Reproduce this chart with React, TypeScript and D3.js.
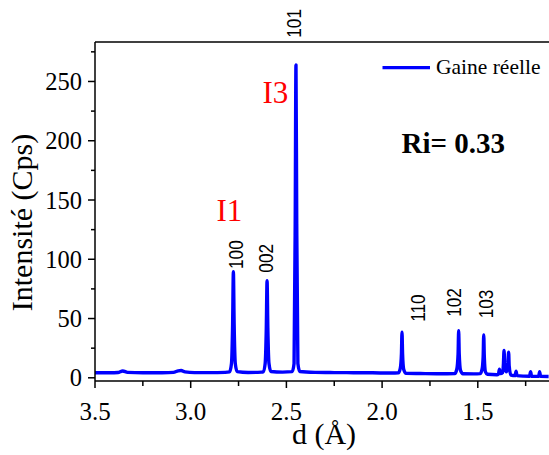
import React, { useEffect } from "react";
import * as d3 from "d3";

const W = 549;
const H = 455;

// Diffraction pattern: d-spacing (Å) and intensity (Cps)
const dValues = [
  3.5, 3.42, 3.38, 3.355, 3.33, 3.25, 3.15, 3.09, 3.065, 3.05, 3.03, 2.98, 2.9, 2.82,
  2.797, 2.787, 2.781, 2.777, 2.773, 2.767, 2.757, 2.7, 2.63,
  2.621, 2.611, 2.605, 2.601, 2.597, 2.591, 2.581, 2.52, 2.47,
  2.46, 2.454, 2.45, 2.446, 2.44, 2.43, 2.35, 2.25, 2.15, 2.05, 1.95,
  1.915, 1.905, 1.899, 1.896, 1.893, 1.887, 1.875, 1.8, 1.7, 1.62,
  1.61, 1.603, 1.6, 1.597, 1.59, 1.578, 1.52, 1.488,
  1.478, 1.472, 1.469, 1.466, 1.46, 1.45, 1.4, 1.392, 1.387, 1.382,
  1.37, 1.366, 1.363, 1.359, 1.35, 1.343, 1.339, 1.336, 1.327,
  1.305, 1.3, 1.295, 1.26, 1.23, 1.224, 1.219, 1.2, 1.182, 1.177, 1.172, 1.13,
];
const intensities = [
  4.3, 4.2, 4.5, 5.8, 4.6, 4.2, 4.3, 4.6, 5.9, 6.2, 5.0, 4.4, 4.4, 4.6,
  5.0, 12, 45, 89.5, 45, 12, 5.2, 4.5, 4.8,
  5.2, 12, 42, 82, 42, 12, 5.3, 4.8, 5.2,
  12, 130, 264, 130, 12, 5.3, 4.6, 4.4, 4.3, 4.2, 4.0,
  4.2, 8, 20, 38.5, 20, 7, 3.8, 3.6, 3.4, 3.6,
  7, 20, 39.8, 20, 6, 3.4, 3.3, 3.5,
  7, 18, 36.2, 18, 5, 3.0, 2.6, 3.2, 7.3, 3.5,
  4.5, 12, 23, 10, 5, 11, 21.6, 10, 2.2,
  1.8, 5.5, 1.8, 1.4, 1.3, 5.2, 1.3, 1.2, 1.2, 5.2, 1.2, 1.1,
];

const xTicks = [3.5, 3.0, 2.5, 2.0, 1.5];
const xMinorTicks = [3.25, 2.75, 2.25, 1.75, 1.25];
const yTicks = [0, 50, 100, 150, 200, 250];
const yMinorTicks = [25, 75, 125, 175, 225, 275];

const hklLabels = ["100", "002", "101", "110", "102", "103"];
const hklLabelD = [2.728, 2.572, 2.424, 1.776, 1.589, 1.419];
const hklLabelY = [91.8, 88.7, 286.9, 47.3, 51.5, 50.2];

const seriesName = "Gaine réelle";
const xTitle = "d (Å)";
const yTitle = "Intensité (Cps)";
const riText = "Ri= 0.33";

export default function App() {
  useEffect(() => {
    document.body.style.margin = "0";
  }, []);

  const left = 95;
  const right = 549;
  const top = 42;
  const bottom = 381;

  const x = d3.scaleLinear().domain([3.5, 1.128]).range([left, right]);
  const y = d3.scaleLinear().domain([-2.7, 283.3]).range([bottom, top]);

  const pts: [number, number][] = dValues.map((d, i) => [d, intensities[i]]);
  const line = d3
    .line<[number, number]>()
    .x((p) => x(p[0]))
    .y((p) => y(p[1]))
    .curve(d3.curveMonotoneX);

  const serif = "'Liberation Serif', 'Times New Roman', serif";
  const sans = "'Liberation Sans', Arial, sans-serif";

  return (
    <svg width={W} height={H} style={{ position: "absolute", left: 0, top: 0, background: "#fff" }}>
      <defs>
        <clipPath id="plotclip">
          <rect x={left} y={top} width={right - left} height={bottom - top} />
        </clipPath>
      </defs>
      <rect x={0} y={0} width={W} height={H} fill="#fff" />

      <path
        d={line(pts) || ""}
        fill="none"
        stroke="#0000ff"
        strokeWidth={3.4}
        strokeLinejoin="round"
        clipPath="url(#plotclip)"
      />

      {/* spines */}
      <line x1={left} x2={right} y1={top} y2={top} stroke="#000" strokeWidth={1.5} />
      <line x1={left} x2={left} y1={top} y2={bottom} stroke="#000" strokeWidth={1.5} />
      <line x1={left} x2={right} y1={bottom} y2={bottom} stroke="#000" strokeWidth={1.5} />

      {/* x ticks */}
      {xTicks.map((t) => (
        <g key={"xt" + t}>
          <line x1={x(t)} x2={x(t)} y1={bottom} y2={bottom + 7} stroke="#000" strokeWidth={1.5} />
          <text x={x(t)} y={419.5} fontFamily={serif} fontSize={25} textAnchor="middle" fill="#000">
            {t.toFixed(1)}
          </text>
        </g>
      ))}
      {xMinorTicks.map((t) => (
        <line key={"xm" + t} x1={x(t)} x2={x(t)} y1={bottom} y2={bottom + 5} stroke="#000" strokeWidth={1.5} />
      ))}

      {/* y ticks */}
      {yTicks.map((t) => (
        <g key={"yt" + t}>
          <line x1={left - 7} x2={left} y1={y(t)} y2={y(t)} stroke="#000" strokeWidth={1.5} />
          <text x={82} y={y(t)} dy="0.35em" fontFamily={serif} fontSize={24.5} textAnchor="end" fill="#000">
            {t}
          </text>
        </g>
      ))}
      {yMinorTicks.map((t) => (
        <line key={"ym" + t} x1={left - 4} x2={left} y1={y(t)} y2={y(t)} stroke="#000" strokeWidth={1.5} />
      ))}

      {/* axis titles */}
      <text x={324} y={444} fontFamily={serif} fontSize={30} textAnchor="middle" fill="#000">
        {xTitle}
      </text>
      <text
        transform={`translate(32, 222.5) rotate(-90)`}
        fontFamily={serif}
        fontSize={30}
        textAnchor="middle"
        fill="#000"
      >
        {yTitle}
      </text>

      {/* hkl labels */}
      {hklLabels.map((lab, i) => (
        <text
          key={lab}
          transform={`translate(${x(hklLabelD[i])}, ${y(hklLabelY[i])}) rotate(-90) scale(0.86, 1)`}
          fontFamily={sans}
          fontSize={20}
          fill="#000"
        >
          {lab}
        </text>
      ))}

      {/* I1 / I3 */}
      <text x={216.5} y={220.5} fontFamily={serif} fontSize={31} fill="#ff0000">
        I1
      </text>
      <text x={262.5} y={102.5} fontFamily={serif} fontSize={31} fill="#ff0000">
        I3
      </text>

      {/* Ri */}
      <text x={401.5} y={152.5} fontFamily={serif} fontSize={29} fontWeight="bold" fill="#000">
        {riText}
      </text>

      {/* legend */}
      <line x1={382.5} x2={430} y1={67.7} y2={67.7} stroke="#0000ff" strokeWidth={3.3} />
      <text x={436} y={74.3} fontFamily={serif} fontSize={21.5} fill="#000">
        {seriesName}
      </text>
    </svg>
  );
}
